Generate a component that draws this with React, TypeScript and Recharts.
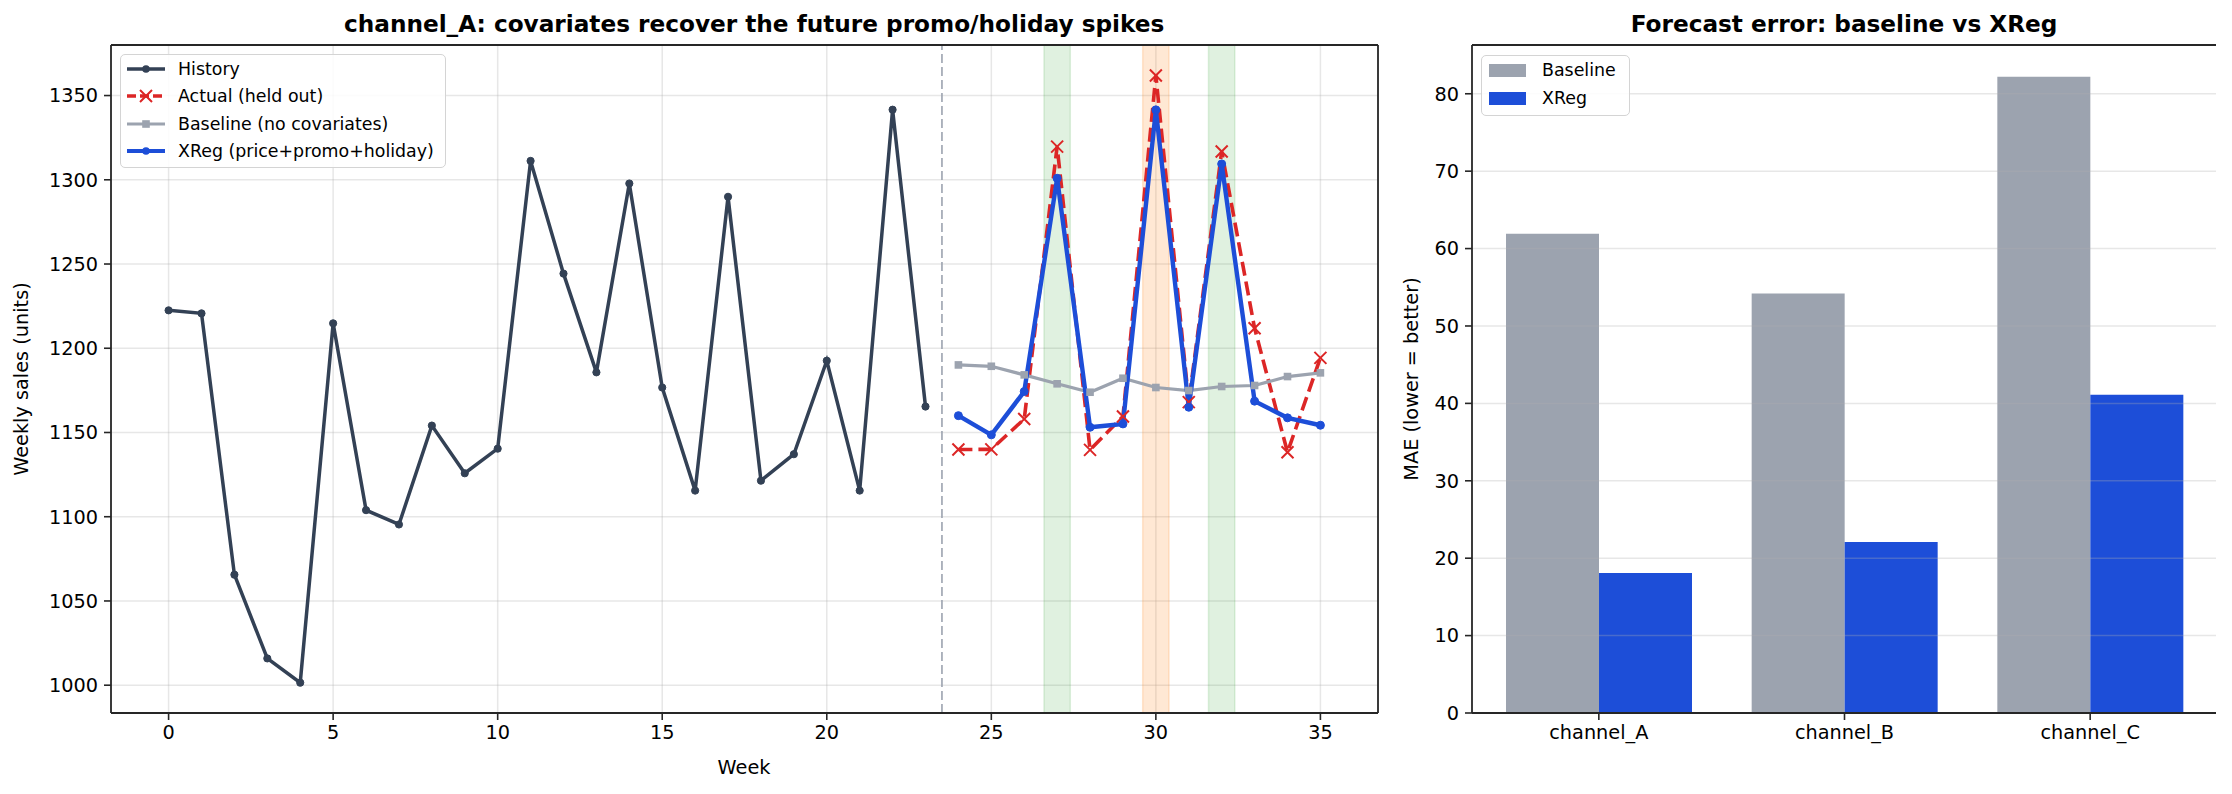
import React from 'react';
import {
  LineChart, Line, XAxis, YAxis, CartesianGrid, ReferenceArea, ReferenceLine,
  BarChart, Bar, Legend,
} from 'recharts';

// ---------- data ----------
const historyValues = [1222.5, 1220.7, 1065.6, 1015.9, 1001.5, 1214.8, 1103.9, 1095.4, 1154.1, 1125.8, 1140.4, 1311.2, 1244.3, 1185.7, 1297.8, 1176.7, 1115.5, 1289.9, 1121.4, 1137.1, 1192.6, 1115.5, 1341.6, 1165.4];
const actualValues = [1139.9, 1140.0, 1158.0, 1319.7, 1139.7, 1159.5, 1361.9, 1168.0, 1316.8, 1211.9, 1138.3, 1194.3];
const baselineValues = [1190.1, 1189.3, 1184.2, 1178.9, 1173.9, 1182.2, 1176.7, 1174.9, 1177.3, 1177.9, 1183.2, 1185.4];
const xregValues = [1160.0, 1148.6, 1174.3, 1300.9, 1153.1, 1155.1, 1341.5, 1165.0, 1309.4, 1168.6, 1158.7, 1154.3];
const forecastStart = 24;
const splitWeek = 23.5;
const greenSpans = [[26.6, 27.4], [31.6, 32.4]];
const orangeSpans = [[29.6, 30.4]];
const weekTicks = [0, 5, 10, 15, 20, 25, 30, 35];
const salesTicks = [1000, 1050, 1100, 1150, 1200, 1250, 1300, 1350];

const channels = ['channel_A', 'channel_B', 'channel_C'];
const maeBaseline = [61.9, 54.2, 82.2];
const maeXreg = [18.1, 22.1, 41.1];
const maeTicks = [0, 10, 20, 30, 40, 50, 60, 70, 80];

const lineNames = ['History', 'Actual (held out)', 'Baseline (no covariates)', 'XReg (price+promo+holiday)'];
const barNames = ['Baseline', 'XReg'];

// ---------- derived tables ----------
const totalWeeks = forecastStart + actualValues.length;
const lineData = Array.from({ length: totalWeeks }, (_, w) => ({
  week: w,
  history: w < forecastStart ? historyValues[w] : null,
  actual: w >= forecastStart ? actualValues[w - forecastStart] : null,
  baseline: w >= forecastStart ? baselineValues[w - forecastStart] : null,
  xreg: w >= forecastStart ? xregValues[w - forecastStart] : null,
}));
const barData = channels.map((c, i) => ({ channel: c, baseline: maeBaseline[i], xreg: maeXreg[i] }));

// ---------- styles ----------
const FONT = 'DejaVu Sans';
const C_HIST = '#334155';
const C_ACT = '#dc2626';
const C_BASE = '#9ca3af';
const C_XREG = '#1d4ed8';
const SPINE = '#262626';
const TICK_FS = 19.3;
const tickStyle = { fontSize: TICK_FS, fill: '#000', fontFamily: FONT };

const XDot = (p: any) => {
  const { cx, cy, value, index } = p;
  if (value == null || cx == null || cy == null) return <g key={`xd${index}`} />;
  const s = 6;
  return (
    <path key={`xd${index}`} d={`M${cx - s},${cy - s}L${cx + s},${cy + s}M${cx - s},${cy + s}L${cx + s},${cy - s}`}
      stroke={C_ACT} strokeWidth={2} fill="none" />
  );
};
const SqDot = (p: any) => {
  const { cx, cy, value, index } = p;
  if (value == null || cx == null || cy == null) return <g key={`sd${index}`} />;
  return <rect key={`sd${index}`} x={cx - 3.8} y={cy - 3.8} width={7.6} height={7.6} fill={C_BASE} />;
};

const lineSamples = [
  { color: C_HIST, dash: undefined as string | undefined, marker: 'o', w: 3.5 },
  { color: C_ACT, dash: '9 4', marker: 'x', w: 3.5 },
  { color: C_BASE, dash: undefined, marker: 's', w: 3.2 },
  { color: C_XREG, dash: undefined, marker: 'o', w: 4.2 },
];

const LineLegend = () => (
  <div style={{ width: 326, height: 114, boxSizing: 'border-box', border: '1.5px solid #d4d4d4', borderRadius: 5, background: 'rgba(255,255,255,0.85)', position: 'relative', fontFamily: FONT, fontSize: 17.4, color: '#000' }}>
    {lineNames.map((n, i) => {
      const s = lineSamples[i];
      const cy = 14 + i * 27.3;
      return (
        <div key={n} style={{ position: 'absolute', left: 0, top: cy - 12, height: 24, width: 320 }}>
          <svg width={44} height={24} style={{ position: 'absolute', left: 4, top: 0 }}>
            <line x1={2} y1={12} x2={40} y2={12} stroke={s.color} strokeWidth={s.w} strokeDasharray={s.dash} />
            {s.marker === 'o' && <circle cx={21} cy={12} r={3.8} fill={s.color} />}
            {s.marker === 's' && <rect x={17.2} y={8.2} width={7.6} height={7.6} fill={s.color} />}
            {s.marker === 'x' && <path d="M15,6L27,18M15,18L27,6" stroke={s.color} strokeWidth={2} />}
          </svg>
          <span style={{ position: 'absolute', left: 57, top: 0, lineHeight: '24px', whiteSpace: 'nowrap' }}>{n}</span>
        </div>
      );
    })}
  </div>
);

const BarLegend = () => (
  <div style={{ width: 149, height: 61, boxSizing: 'border-box', border: '1.5px solid #d4d4d4', borderRadius: 5, background: 'rgba(255,255,255,0.85)', position: 'relative', fontFamily: FONT, fontSize: 17.4, color: '#000' }}>
    {barNames.map((n, i) => {
      const cy = 14 + i * 28.2;
      return (
        <div key={n} style={{ position: 'absolute', left: 0, top: cy - 12, height: 24, width: 145 }}>
          <div style={{ position: 'absolute', left: 7, top: 5.5, width: 37, height: 13, background: i === 0 ? C_BASE : C_XREG }} />
          <span style={{ position: 'absolute', left: 60, top: 0, lineHeight: '24px', whiteSpace: 'nowrap' }}>{n}</span>
        </div>
      );
    })}
  </div>
);

const textDiv = (txt: string, cx: number, cy: number, size: number, bold = false, rotate = false) => (
  <div style={{
    position: 'absolute', left: cx - 400, top: cy - 15, width: 800, height: 30, lineHeight: '30px',
    textAlign: 'center', fontFamily: FONT, fontSize: size, fontWeight: bold ? 'bold' : 'normal', color: '#000',
    transform: rotate ? 'rotate(-90deg)' : undefined, whiteSpace: 'nowrap',
  }}>{txt}</div>
);

export default function App() {
  return (
    <div style={{ position: 'absolute', left: 0, top: 0, width: 2232, height: 794, background: '#fff', overflow: 'hidden' }}>
      {/* Left chart */}
      <div style={{ position: 'absolute', left: 0, top: 0, width: 1390, height: 794 }}>
        <LineChart width={1390} height={794} data={lineData} margin={{ top: 45, right: 12, bottom: 41, left: 0 }}>
          <CartesianGrid stroke="#b0b0b0" strokeOpacity={0.3} strokeWidth={1.5} />
          {greenSpans.map(([a, b], i) => (
            <ReferenceArea key={`g${i}`} x1={a} x2={b} fill="#2ca02c" fillOpacity={0.15} stroke="#2ca02c" strokeOpacity={0.15} strokeWidth={1.5} />
          ))}
          {orangeSpans.map(([a, b], i) => (
            <ReferenceArea key={`o${i}`} x1={a} x2={b} fill="#ff7f0e" fillOpacity={0.18} stroke="#ff7f0e" strokeOpacity={0.18} strokeWidth={1.5} />
          ))}
          <XAxis dataKey="week" type="number" domain={[-1.75, 36.75]} allowDataOverflow ticks={weekTicks}
            height={40} tick={tickStyle} tickSize={7} tickMargin={5}
            tickLine={{ stroke: SPINE, strokeWidth: 1.6 }} axisLine={{ stroke: SPINE, strokeWidth: 1.8 }} />
          <YAxis type="number" domain={[983.5, 1380]} allowDataOverflow ticks={salesTicks} width={111}
            tick={tickStyle} tickSize={7} tickMargin={6}
            tickLine={{ stroke: SPINE, strokeWidth: 1.6 }} axisLine={{ stroke: SPINE, strokeWidth: 1.8 }} />
          <ReferenceLine x={splitWeek} stroke="#9ca3af" strokeWidth={1.6} strokeDasharray="9 4" />
          <ReferenceLine y={1380} stroke={SPINE} strokeWidth={1.8} />
          <ReferenceLine x={36.75} stroke={SPINE} strokeWidth={1.8} />
          <Line dataKey="history" name={lineNames[0]} stroke={C_HIST} strokeWidth={3.5} isAnimationActive={false}
            dot={{ r: 3.6, fill: C_HIST, stroke: C_HIST, strokeWidth: 1 }} activeDot={false} connectNulls={false} />
          <Line dataKey="actual" name={lineNames[1]} stroke={C_ACT} strokeWidth={3.6} strokeDasharray="14 6" isAnimationActive={false}
            dot={XDot} activeDot={false} connectNulls={false} />
          <Line dataKey="baseline" name={lineNames[2]} stroke={C_BASE} strokeWidth={3.2} isAnimationActive={false}
            dot={SqDot} activeDot={false} connectNulls={false} />
          <Line dataKey="xreg" name={lineNames[3]} stroke={C_XREG} strokeWidth={4.4} isAnimationActive={false}
            dot={{ r: 4, fill: C_XREG, stroke: C_XREG, strokeWidth: 1 }} activeDot={false} connectNulls={false} />
          <Legend layout="horizontal" verticalAlign="middle" align="center" content={<LineLegend />}
            wrapperStyle={{ position: 'absolute', left: 120, top: 54, width: 326, height: 114 }} />
        </LineChart>
      </div>

      {/* Right chart */}
      <div style={{ position: 'absolute', left: 1380, top: 0, width: 852, height: 794 }}>
        <BarChart width={852} height={794} data={barData} margin={{ top: 45, right: 16, bottom: 41, left: 0 }} barGap={0} barSize={93}>
          <XAxis dataKey="channel" height={40} padding={{ left: 4, right: 3 }} tick={tickStyle} tickSize={7} tickMargin={5}
            tickLine={{ stroke: SPINE, strokeWidth: 1.6 }} axisLine={{ stroke: SPINE, strokeWidth: 1.8 }} />
          <YAxis type="number" domain={[0, 86.3]} allowDataOverflow ticks={maeTicks} width={92}
            tick={tickStyle} tickSize={7} tickMargin={6}
            tickLine={{ stroke: SPINE, strokeWidth: 1.6 }} axisLine={{ stroke: SPINE, strokeWidth: 1.8 }} />
          <YAxis yAxisId="right" orientation="right" type="number" domain={[0, 86.3]} width={0} tick={false} tickLine={false}
            axisLine={{ stroke: SPINE, strokeWidth: 1.8 }} />
          <Bar dataKey="baseline" name={barNames[0]} fill={C_BASE} isAnimationActive={false} />
          <Bar dataKey="xreg" name={barNames[1]} fill={C_XREG} isAnimationActive={false} />
          {maeTicks.filter((t) => t > 0).map((t) => (
            <ReferenceLine key={`gl${t}`} y={t} stroke="#b0b0b0" strokeOpacity={0.3} strokeWidth={1.5} />
          ))}
          <ReferenceLine y={86.3} stroke={SPINE} strokeWidth={1.8} />
          <Legend layout="horizontal" verticalAlign="middle" align="center" content={<BarLegend />}
            wrapperStyle={{ position: 'absolute', left: 101, top: 55, width: 149, height: 61 }} />
        </BarChart>
      </div>

      {/* Titles and axis labels */}
      {textDiv('channel_A: covariates recover the future promo/holiday spikes', 744, 24, 23.2, true)}
      {textDiv('Forecast error: baseline vs XReg', 1844, 24, 23.2, true)}
      {textDiv('Week', 744, 768, 19.3)}
      {textDiv('Weekly sales (units)', 22, 379, 19.3, false, true)}
      {textDiv('MAE (lower = better)', 1411.5, 379, 19.3, false, true)}
    </div>
  );
}
